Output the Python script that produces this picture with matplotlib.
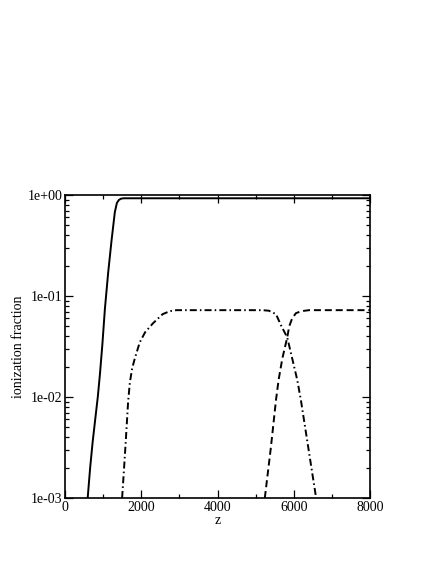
import numpy as np
import matplotlib
matplotlib.use('Agg')
import matplotlib.pyplot as plt
from matplotlib.ticker import LogLocator, MultipleLocator, FixedFormatter, FixedLocator

# solid curve
z_solid = [595, 660, 724, 790, 860, 915, 980, 1046, 1132, 1221, 1307, 1360, 1410, 1470, 1540, 8000]
f_solid = [1e-3, 0.0020, 0.00355, 0.00589, 0.0100, 0.0166, 0.0331, 0.0741, 0.170, 0.355,
           0.676, 0.832, 0.891, 0.920, 0.928, 0.928]

# dash-dot curve
z_dashdot = [1498, 1550, 1595, 1655, 1700, 1760, 1830, 1960, 2100, 2308, 2561, 2750, 2920,
             5176, 5350, 5534, 5665, 5829, 6091, 6187, 6587]
f_dashdot = [1e-3, 0.0020, 0.00372, 0.00891, 0.0138, 0.0191, 0.0240, 0.0347, 0.0437, 0.0537,
             0.0661, 0.0708, 0.0724, 0.0724, 0.0715, 0.0661, 0.0513, 0.0389, 0.0148, 0.00933, 1e-3]

# dashed curve
z_dashed = [5241, 5400, 5534, 5603, 5700, 5829, 5881, 5960, 6057, 6200, 6404, 8000]
f_dashed = [1e-3, 0.00316, 0.00933, 0.0148, 0.0240, 0.0389, 0.0501, 0.0603, 0.0676, 0.0708,
            0.0724, 0.0724]

y_ticks = [1e-3, 1e-2, 1e-1, 1e0]
y_labels = ['1e-03', '1e-02', '1e-01', '1e+00']

plt.rcParams['font.family'] = ['Liberation Serif', 'DejaVu Serif']

fig = plt.figure(figsize=(4.36, 5.64), dpi=100)
ax = fig.add_axes([65/436, 1-498/564, (370-65)/436, (498-195)/564])

lw = 1.4
ax.plot(z_solid, f_solid, color='black', lw=lw, ls='-')
ax.plot(z_dashdot, f_dashdot, color='black', lw=lw, dashes=(3.6, 1.6, 0.8, 1.6))
ax.plot(z_dashed, f_dashed, color='black', lw=lw, dashes=(3.6, 2.0))

ax.set_yscale('log')
ax.set_xlim(0, 8000)
ax.set_ylim(1e-3, 1e0)

ax.xaxis.set_major_locator(MultipleLocator(2000))
ax.xaxis.set_minor_locator(MultipleLocator(1000))
ax.yaxis.set_major_locator(FixedLocator(y_ticks))
ax.yaxis.set_major_formatter(FixedFormatter(y_labels))
ax.yaxis.set_minor_locator(LogLocator(base=10, subs=np.arange(2, 10)))
ax.yaxis.set_minor_formatter(plt.NullFormatter())

ax.tick_params(which='both', direction='in', top=True, right=True, labelsize=10, color='black')
ax.tick_params(which='major', length=6, width=0.9, pad=2)
ax.tick_params(which='minor', length=3, width=0.9)
for s in ax.spines.values():
    s.set_linewidth(1.2)

ax.set_xlabel('z', fontsize=10, labelpad=0)
ax.set_ylabel('ionization fraction', fontsize=10, labelpad=2)

fig.savefig('out.png', dpi=100)
